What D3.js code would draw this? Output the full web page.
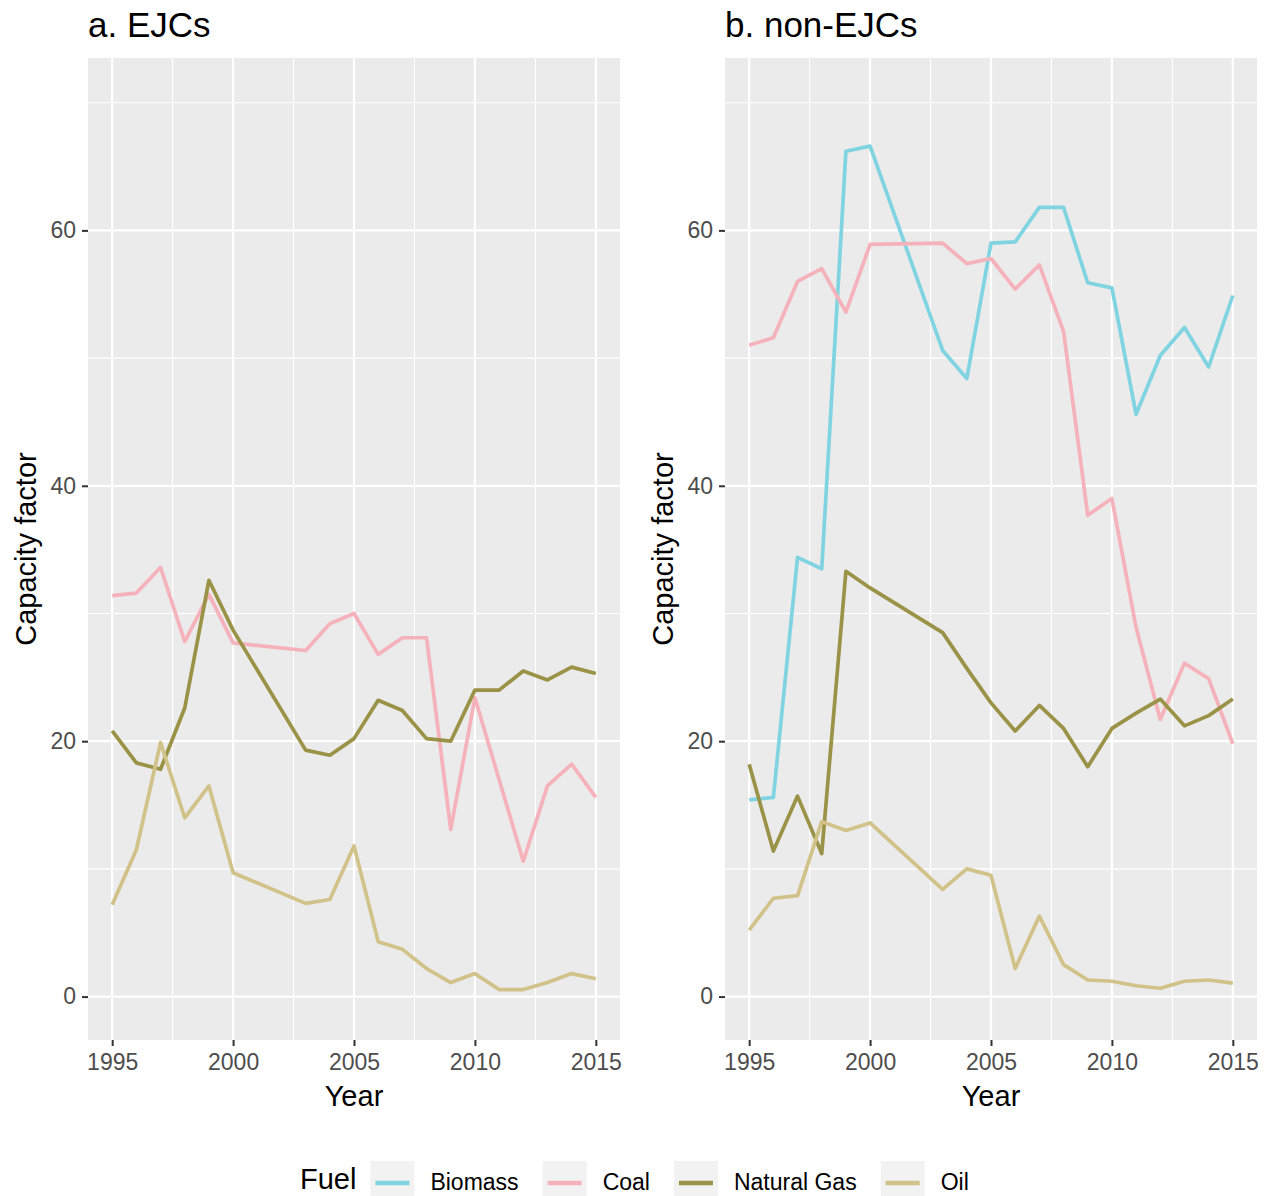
<!DOCTYPE html>
<html>
<head>
<meta charset="utf-8">
<script src="https://cdn.jsdelivr.net/npm/d3@7/dist/d3.min.js"></script>
<style>
  html, body { margin: 0; padding: 0; background: #ffffff; }
  svg { display: block; font-family: "Liberation Sans", Arial, sans-serif; }
</style>
</head>
<body>
<svg id="chart" width="1275" height="1196"></svg>
<script>
// Years on the x axis (2001 and 2002 have no observations)
const years = [1995, 1996, 1997, 1998, 1999, 2000, 2001, 2002, 2003, 2004, 2005,
               2006, 2007, 2008, 2009, 2010, 2011, 2012, 2013, 2014, 2015];

const fuels = ["Biomass", "Coal", "Natural Gas", "Oil"];
const fuelColors = ["#80D4E2", "#F5B2BB", "#9A9347", "#D1C289"];

const xTicks = [1995, 2000, 2005, 2010, 2015];
const yTicks = [0, 20, 40, 60];

// a. EJCs — capacity factor by fuel
const ejcCoal = [31.4, 31.6, 33.6, 27.8, 31.5, 27.7, null, null, 27.1, 29.2, 30.0,
                 26.8, 28.1, 28.1, 13.1, 23.4, 17.0, 10.6, 16.5, 18.2, 15.6];
const ejcGas  = [20.8, 18.3, 17.8, 22.6, 32.6, 28.7, null, null, 19.3, 18.9, 20.2,
                 23.2, 22.4, 20.2, 20.0, 24.0, 24.0, 25.5, 24.8, 25.8, 25.3];
const ejcOil  = [7.2, 11.5, 19.9, 14.0, 16.5, 9.7, null, null, 7.3, 7.6, 11.8,
                 4.3, 3.7, 2.2, 1.1, 1.8, 0.55, 0.55, 1.1, 1.8, 1.4];

// b. non-EJCs — capacity factor by fuel
const nonBiomass = [15.4, 15.6, 34.4, 33.5, 66.2, 66.6, null, null, 50.6, 48.4, 59.0,
                    59.1, 61.8, 61.8, 55.9, 55.5, 45.6, 50.2, 52.4, 49.3, 54.9];
const nonCoal    = [51.0, 51.6, 56.0, 57.0, 53.6, 58.9, null, null, 59.0, 57.4, 57.8,
                    55.4, 57.3, 52.1, 37.7, 39.0, 28.9, 21.7, 26.1, 24.9, 19.8];
const nonGas     = [18.2, 11.4, 15.7, 11.2, 33.3, 32.0, null, null, 28.5, 25.7, 23.0,
                    20.8, 22.8, 21.0, 18.0, 21.0, 22.2, 23.3, 21.2, 22.0, 23.3];
const nonOil     = [5.2, 7.7, 7.9, 13.7, 13.0, 13.6, null, null, 8.4, 10.0, 9.5,
                    2.2, 6.3, 2.5, 1.3, 1.2, 0.85, 0.65, 1.2, 1.3, 1.05];

const panels = [
  { title: "a. EJCs", left: 88, series: [
      { fuel: "Coal", values: ejcCoal },
      { fuel: "Natural Gas", values: ejcGas },
      { fuel: "Oil", values: ejcOil } ] },
  { title: "b. non-EJCs", left: 725, series: [
      { fuel: "Biomass", values: nonBiomass },
      { fuel: "Coal", values: nonCoal },
      { fuel: "Natural Gas", values: nonGas },
      { fuel: "Oil", values: nonOil } ] }
];

const svg = d3.select("#chart");
const color = d3.scaleOrdinal().domain(fuels).range(fuelColors);

const panelW = 532, panelTop = 58, panelBottom = 1040;
const y = d3.scaleLinear().domain([-3.4, 73.5]).range([panelBottom, panelTop]);

panels.forEach(p => {
  const x = d3.scaleLinear().domain([1994, 2016]).range([p.left, p.left + panelW]);
  const g = svg.append("g");

  // panel background
  g.append("rect")
    .attr("x", p.left).attr("y", panelTop)
    .attr("width", panelW).attr("height", panelBottom - panelTop)
    .attr("fill", "#EBEBEB");

  // minor grid
  const yMinor = [10, 30, 50, 70];
  const xMinor = [1997.5, 2002.5, 2007.5, 2012.5];
  g.selectAll(".ymin").data(yMinor).enter().append("line")
    .attr("x1", p.left).attr("x2", p.left + panelW)
    .attr("y1", d => y(d)).attr("y2", d => y(d))
    .attr("stroke", "#ffffff").attr("stroke-width", 1.1);
  g.selectAll(".xmin").data(xMinor).enter().append("line")
    .attr("x1", d => x(d)).attr("x2", d => x(d))
    .attr("y1", panelTop).attr("y2", panelBottom)
    .attr("stroke", "#ffffff").attr("stroke-width", 1.1);

  // major grid
  g.selectAll(".ymaj").data(yTicks).enter().append("line")
    .attr("x1", p.left).attr("x2", p.left + panelW)
    .attr("y1", d => y(d)).attr("y2", d => y(d))
    .attr("stroke", "#ffffff").attr("stroke-width", 2.2);
  g.selectAll(".xmaj").data(xTicks).enter().append("line")
    .attr("x1", d => x(d)).attr("x2", d => x(d))
    .attr("y1", panelTop).attr("y2", panelBottom)
    .attr("stroke", "#ffffff").attr("stroke-width", 2.2);

  // series lines
  const line = d3.line()
    .x(d => x(d.year)).y(d => y(d.v));
  p.series.forEach(s => {
    const pts = years.map((yr, i) => ({ year: yr, v: s.values[i] })).filter(d => d.v !== null);
    g.append("path")
      .datum(pts)
      .attr("d", line)
      .attr("fill", "none")
      .attr("stroke", color(s.fuel))
      .attr("stroke-width", 3.7)
      .attr("stroke-linejoin", "round")
      .attr("stroke-linecap", "butt");
  });

  // x axis
  const xAxis = d3.axisBottom(x).tickValues(xTicks).tickFormat(d3.format("d"))
    .tickSize(6).tickPadding(8);
  const xa = g.append("g").attr("transform", `translate(0,${panelBottom})`).call(xAxis);
  xa.select(".domain").remove();
  xa.selectAll(".tick line").attr("stroke", "#333333").attr("stroke-width", 2);
  xa.selectAll(".tick text").attr("fill", "#4D4D4D").style("font-size", "23px")
    .style("font-family", "Liberation Sans, Arial, sans-serif");

  // y axis
  const yAxis = d3.axisLeft(y).tickValues(yTicks).tickSize(6).tickPadding(6);
  const ya = g.append("g").attr("transform", `translate(${p.left},0)`).call(yAxis);
  ya.select(".domain").remove();
  ya.selectAll(".tick line").attr("stroke", "#333333").attr("stroke-width", 2);
  ya.selectAll(".tick text").attr("fill", "#4D4D4D").style("font-size", "23px")
    .style("font-family", "Liberation Sans, Arial, sans-serif");

  // titles
  g.append("text").attr("x", p.left).attr("y", 37)
    .style("font-size", "35px").attr("fill", "#000").text(p.title);
  g.append("text").attr("x", p.left + panelW / 2).attr("y", 1106)
    .attr("text-anchor", "middle").style("font-size", "29px").attr("fill", "#000").text("Year");
  g.append("text")
    .attr("transform", `translate(${p.left - 52},${(panelTop + panelBottom) / 2}) rotate(-90)`)
    .attr("text-anchor", "middle").style("font-size", "29px").attr("fill", "#000")
    .text("Capacity factor");
});

// legend
const legend = svg.append("g");
const legTitle = legend.append("text").attr("x", 300).attr("y", 1189)
  .style("font-size", "29px").attr("fill", "#000").text("Fuel");
let cx = 300 + legTitle.node().getComputedTextLength() + 14;
fuels.forEach(f => {
  legend.append("rect").attr("x", cx).attr("y", 1161).attr("width", 44).attr("height", 44)
    .attr("fill", "#F2F2F2");
  legend.append("line").attr("x1", cx + 5).attr("x2", cx + 39)
    .attr("y1", 1183).attr("y2", 1183)
    .attr("stroke", color(f)).attr("stroke-width", 4.5);
  const t = legend.append("text").attr("x", cx + 60).attr("y", 1190)
    .style("font-size", "23px").attr("fill", "#000").text(f);
  cx += 60 + t.node().getComputedTextLength() + 24;
});
</script>
</body>
</html>
